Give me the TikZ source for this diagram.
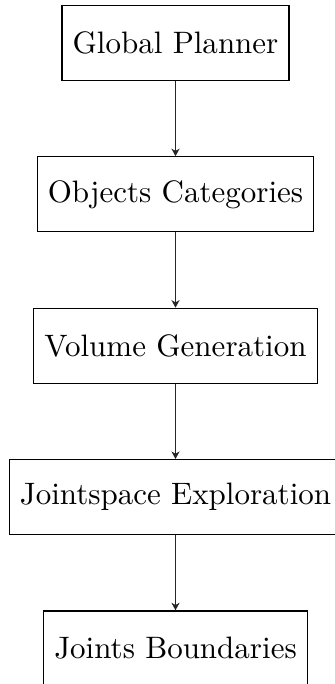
\documentclass[tikz,border=0pt]{standalone}
\usetikzlibrary{arrows.meta}
\begin{document}
\begin{tikzpicture}[x=0.3225pt,y=-0.3225pt,
  stagebox/.style={draw, rectangle, inner xsep=3.4pt, minimum height=24.2pt, font=\fontsize{10}{12}\selectfont},
  flow/.style={-{Stealth[length=2.4pt,width=2.6pt,inset=0.7pt]}, draw=black!85}]
  \useasboundingbox (0,0) rectangle (335,684);
  \node[stagebox] (gp) at (175.5,43.2) {Global Planner};
  \node[stagebox] (oc) at (175.5,194.3) {Objects Categories};
  \node[stagebox] (vg) at (175.5,345.8) {Volume Generation};
  \node[stagebox] (je) at (175.5,497.1) {Jointspace Exploration};
  \node[stagebox] (jb) at (175.5,648.4) {Joints Boundaries};
  \draw[flow] (gp) -- (oc);
  \draw[flow] (oc) -- (vg);
  \draw[flow] (vg) -- (je);
  \draw[flow] (je) -- (jb);
\end{tikzpicture}
\end{document}
